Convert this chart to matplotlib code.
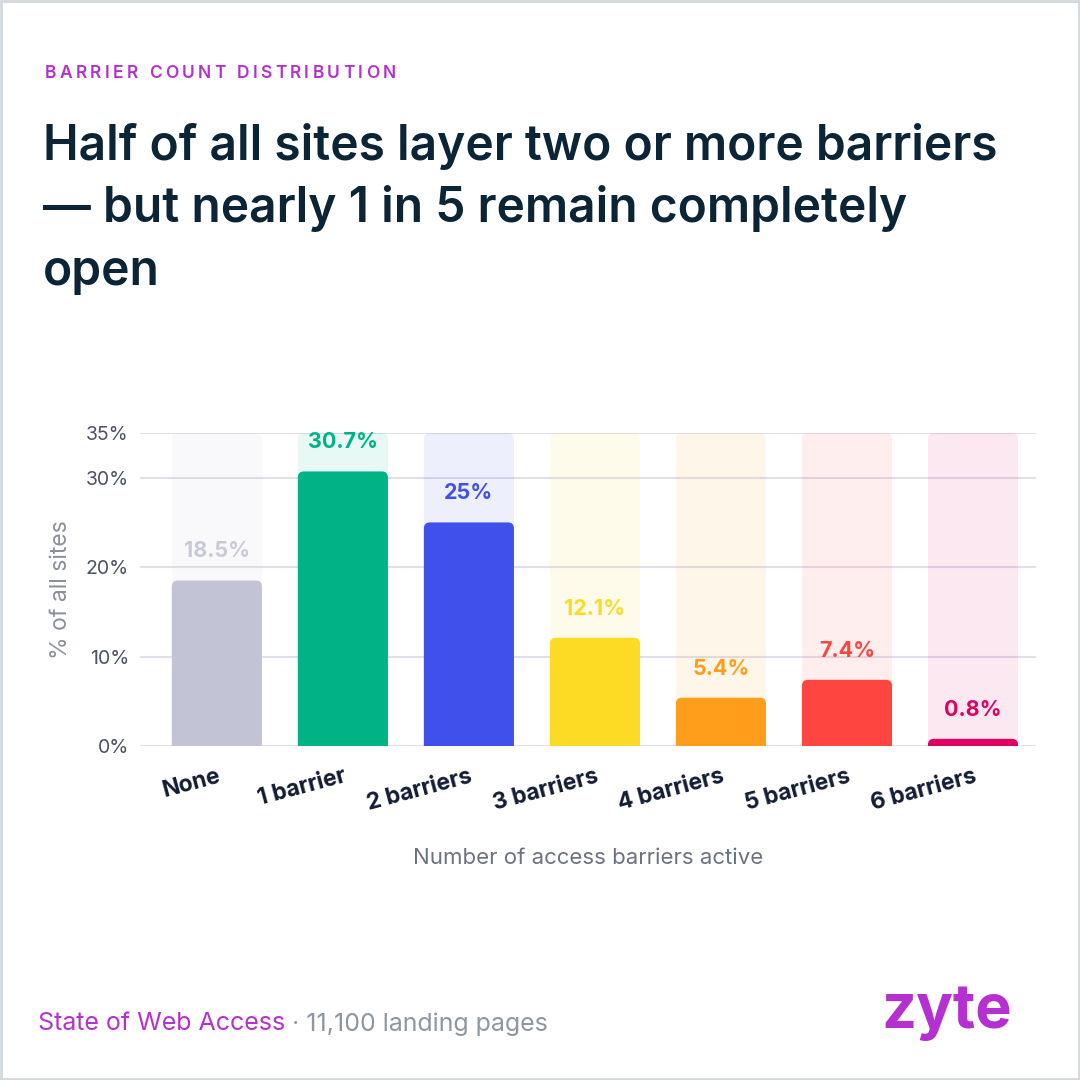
import matplotlib.pyplot as plt
from matplotlib.patches import Rectangle, FancyBboxPatch

categories = ['None', '1 barrier', '2 barriers', '3 barriers',
              '4 barriers', '5 barriers', '6 barriers']
share_pct = [18.5, 30.7, 25.0, 12.1, 5.4, 7.4, 0.8]
value_labels = ['18.5%', '30.7%', '25%', '12.1%', '5.4%', '7.4%', '0.8%']
bar_colors = ['#C2C3D4', '#00B386', '#3F51EA', '#FDDA24',
              '#FF9E1B', '#FF4540', '#E0005F']
label_colors = ['#C9CAD8', '#00B386', '#3F51EA', '#FDDA24',
                '#FF9E1B', '#FF4540', '#E0005F']
y_ticks = [0, 10, 20, 30, 35]
y_max = 35

NAVY = '#0B2536'
PURPLE = '#B62FD0'
GRAY = '#6B7280'

plt.rcParams['font.family'] = ['Inter', 'DejaVu Sans']

fig = plt.figure(figsize=(10.8, 10.8), dpi=100)
fig.patch.set_facecolor('white')
renderer = fig.canvas.get_renderer()

# thin frame round the card
fig.patches.append(Rectangle((0.001, 0.001), 0.998, 0.998, transform=fig.transFigure,
                             fill=False, edgecolor='#D3D8DD', linewidth=2))


def text_width(s, **kw):
    # width in pixels, measured with a trailing 'X' so spaces count
    t = fig.text(0, 0, s + 'X', **kw)
    tx = fig.text(0, 0, 'X', **kw)
    w = t.get_window_extent(renderer).width - tx.get_window_extent(renderer).width
    t.remove()
    tx.remove()
    return w


# letter-spaced kicker
kicker = 'BARRIER COUNT DISTRIBUTION'
kick_kw = dict(color=PURPLE, fontsize=12.5, fontweight='semibold')
tracking = 3.3
x0 = 45
for i, ch in enumerate(kicker):
    xpos = x0 + text_width(kicker[:i], **kick_kw) + tracking * i if i else x0
    fig.text(xpos / 1080, 1 - 74 / 1080, ch, va='center', ha='left', **kick_kw)

title_lines = ['Half of all sites layer two or more barriers',
               '\u2014 but nearly 1 in 5 remain completely',
               'open']
for i, line in enumerate(title_lines):
    fig.text(43 / 1080, 1 - (146 + 63 * i) / 1080, line, color=NAVY,
             fontsize=34.5, fontweight='semibold', va='center', ha='left')

ax = fig.add_axes([140 / 1080, 1 - 746 / 1080, 896 / 1080, 313 / 1080])
x = list(range(len(categories)))
ax.set_xlim(-0.61, 6.5)
ax.set_ylim(0, y_max)

# pale background columns up to the axis top
bg = ax.bar(x, [y_max] * len(x), width=0.715, color=bar_colors, alpha=0.09,
            zorder=1, linewidth=0)
fg = ax.bar(x, share_pct, width=0.715, color=bar_colors, zorder=3, linewidth=0)

# swap the square bars for ones with rounded tops
px_x = 896 / (6.5 + 0.61)
px_y = 313 / y_max
radius = 6 / px_x
for container in (bg, fg):
    for p in container.patches:
        x_l, y_b = p.get_x(), p.get_y()
        w, h = p.get_width(), p.get_height()
        ext = radius * px_x / px_y
        rp = FancyBboxPatch((x_l, y_b - ext), w, h + ext,
                            boxstyle=f'round,pad=0,rounding_size={radius}',
                            mutation_aspect=px_x / px_y,
                            facecolor=p.get_facecolor(), linewidth=0,
                            zorder=p.get_zorder())
        ax.add_patch(rp)
        p.set_visible(False)

for xi, v, lab, c in zip(x, share_pct, value_labels, label_colors):
    ax.annotate(lab, (xi, v), xytext=(0, 21), textcoords='offset points',
                ha='center', va='center', fontsize=15.5, fontweight='bold',
                color=c, zorder=4)

ax.set_yticks(y_ticks)
ax.set_yticklabels([f'{t}%' for t in y_ticks], color='#4B5263', fontsize=14)
ax.yaxis.grid(True, color='#E2DFEA', linewidth=1.5, zorder=0)
ax.set_axisbelow(True)
ax.tick_params(axis='y', length=0, pad=8)
ax.tick_params(axis='x', length=0, pad=14)
for s in ax.spines.values():
    s.set_visible(False)

ax.set_xticks(x)
ax.set_xticklabels(categories, rotation=15, ha='right', rotation_mode='anchor',
                   fontsize=16.5, fontweight='bold', color='#121C33')
ax.set_xlabel('Number of access barriers active', color=GRAY, fontsize=16,
              labelpad=24)
ax.set_ylabel('% of all sites', color='#8A909C', fontsize=16.5, labelpad=10)

t1 = fig.text(38 / 1080, 1 - 1024 / 1080, 'State of Web Access', color=PURPLE,
              fontsize=18, va='center', ha='left')
ax.annotate(' \u00b7 11,100 landing pages', xy=(1, 0.5), xycoords=t1,
            color='#8E96A0', fontsize=18, va='center', ha='left',
            annotation_clip=False)
fig.text(1012 / 1080, 1 - 1012 / 1080, 'zyte', color=PURPLE, fontsize=44,
         fontweight='bold', va='center', ha='right')

fig.savefig('out.png', dpi=100)
